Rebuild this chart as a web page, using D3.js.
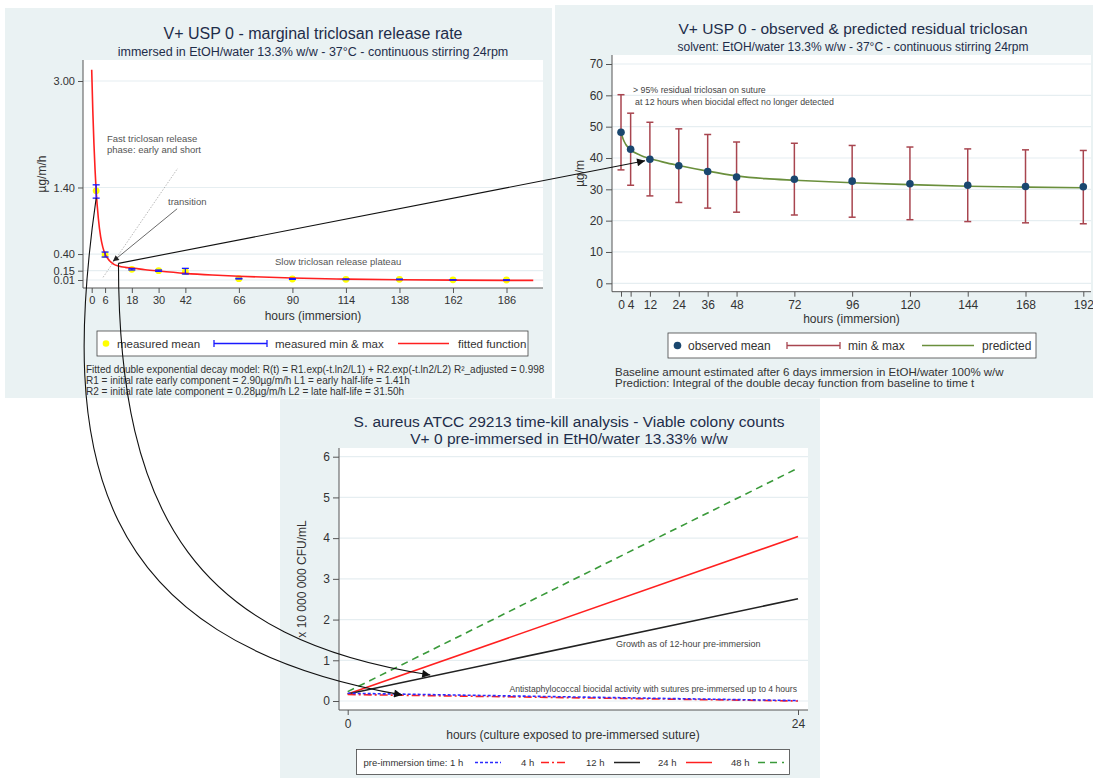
<!DOCTYPE html>
<html>
<head>
<meta charset="utf-8">
<script src="https://cdn.jsdelivr.net/npm/d3@7"></script>
<style>
  body { margin: 0; background: #fff; }
  svg { display: block; font-family: "Liberation Sans", Arial, sans-serif; }
</style>
</head>
<body>
<div id="chart"></div>
<script>
/* DATA */

// panel 1 - marginal release rate (µg/m/h)
const rateHours = [2, 6, 18, 30, 42, 66, 90, 114, 138, 162, 186];
const rateMean = [1.35, 0.39, 0.17, 0.15, 0.135, 0.03, 0.025, 0.02, 0.02, 0.012, 0.01];
const rateMin = [1.24, 0.355, 0.16, 0.14, 0.10, 0.025, 0.02, 0.016, 0.016, 0.01, 0.008];
const rateMax = [1.44, 0.43, 0.18, 0.16, 0.185, 0.035, 0.03, 0.024, 0.024, 0.014, 0.012];
const fitHours = [0, 0.5, 1, 1.5, 2, 3, 4, 5, 6, 8, 10, 12, 15, 18, 24, 30, 42, 54, 66, 90, 114, 138, 162, 186, 198];
const fitRate = [3.17, 2.55, 2.06, 1.67, 1.35, 0.93, 0.66, 0.50, 0.40, 0.30, 0.245, 0.22, 0.20, 0.19, 0.165, 0.145, 0.11, 0.085, 0.066, 0.039, 0.023, 0.013, 0.008, 0.005, 0.004];
const rateYTicks = [0.01, 0.15, 0.40, 1.40, 3.00];
const rateXTicks = [0, 6, 18, 30, 42, 66, 90, 114, 138, 162, 186];

// panel 2 - residual triclosan (µg/m)
const resHours = [0, 4, 12, 24, 36, 48, 72, 96, 120, 144, 168, 192];
const resMean = [48.2, 42.8, 39.6, 37.5, 35.7, 33.9, 33.2, 32.6, 31.8, 31.3, 30.9, 30.8];
const resMin = [36.2, 31.3, 27.9, 25.8, 24.0, 22.7, 21.8, 21.1, 20.3, 19.7, 19.3, 19.0];
const resMax = [60.2, 54.3, 51.4, 49.3, 47.5, 45.1, 44.7, 44.0, 43.5, 42.9, 42.6, 42.4];
const predHours = [0, 1, 2, 4, 8, 12, 18, 24, 36, 48, 60, 72, 96, 120, 144, 168, 192];
const predAmount = [48.2, 45.8, 44.3, 42.6, 40.9, 39.8, 38.6, 37.6, 35.8, 34.3, 33.4, 32.9, 32.1, 31.5, 31.0, 30.7, 30.5];
const resYTicks = [0, 10, 20, 30, 40, 50, 60, 70];
const resXTicks = [0, 4, 12, 24, 36, 48, 72, 96, 120, 144, 168, 192];

// panel 3 - time-kill counts (x 10 000 000 CFU/mL)
const killHours = [0, 24];
const cfu1h = [0.19, 0.01];
const cfu4h = [0.16, 0.00];
const cfu12h = [0.17, 2.51];
const cfu24h = [0.17, 4.04];
const cfu48h = [0.23, 5.72];
const killLabels = ["1 h", "4 h", "12 h", "24 h", "48 h"];
const killYTicks = [0, 1, 2, 3, 4, 5, 6];
const killXTicks = [0, 24];

/* SETUP */
const width = 1093, height = 778;
const panelBg = "#eaf2f3";
const titleColor = "#1e2d4a";
const textColor = "#333";

const svg = d3.select("#chart").append("svg")
  .attr("width", width)
  .attr("height", height)
  .style("background", "#fff");

const defs = svg.append("defs");
defs.append("marker")
  .attr("id", "arrowBig")
  .attr("viewBox", "0 0 10 10")
  .attr("refX", 10).attr("refY", 5)
  .attr("markerUnits", "userSpaceOnUse")
  .attr("markerWidth", 11).attr("markerHeight", 8)
  .attr("orient", "auto")
  .append("path").attr("d", "M0,0 L10,5 L0,10 z").attr("fill", "#111");
defs.append("marker")
  .attr("id", "arrowSmall")
  .attr("viewBox", "0 0 10 10")
  .attr("refX", 10).attr("refY", 5)
  .attr("markerUnits", "userSpaceOnUse")
  .attr("markerWidth", 7).attr("markerHeight", 6)
  .attr("orient", "auto")
  .append("path").attr("d", "M0,0 L10,5 L0,10 z").attr("fill", "#222");

function frame(box, plot) {
  svg.append("rect")
    .attr("x", box.x).attr("y", box.y)
    .attr("width", box.w).attr("height", box.h)
    .attr("fill", panelBg);
  svg.append("rect")
    .attr("x", plot.left).attr("y", plot.top)
    .attr("width", plot.right - plot.left)
    .attr("height", plot.bottom - plot.top)
    .attr("fill", "#fff");
}

function grid(plot, yScale, ticks) {
  svg.append("g").selectAll("line")
    .data(ticks)
    .join("line")
    .attr("x1", plot.left).attr("x2", plot.right)
    .attr("y1", d => yScale(d)).attr("y2", d => yScale(d))
    .attr("stroke", "#e6eef1")
    .attr("stroke-width", 1.2);
}

function axes(plot, xAxis, yAxis, fontSize) {
  const gx = svg.append("g")
    .attr("transform", `translate(0,${plot.bottom})`)
    .call(xAxis);
  const gy = svg.append("g")
    .attr("transform", `translate(${plot.left},0)`)
    .call(yAxis);
  [gx, gy].forEach(g => {
    g.select(".domain").remove();
    g.attr("font-family", null).attr("font-size", null);
    g.selectAll(".tick line").attr("stroke", "#555");
    g.selectAll(".tick text").attr("fill", textColor).style("font-size", fontSize + "px");
  });
  svg.append("line")
    .attr("x1", plot.left).attr("x2", plot.left)
    .attr("y1", plot.top).attr("y2", plot.bottom)
    .attr("stroke", "#555");
  svg.append("line")
    .attr("x1", plot.left).attr("x2", plot.right)
    .attr("y1", plot.bottom).attr("y2", plot.bottom)
    .attr("stroke", "#555");
}

function label(x, y, txt, size, opts = {}) {
  const t = svg.append("text")
    .attr("x", x).attr("y", y)
    .attr("dy", "0.35em")
    .attr("text-anchor", opts.anchor || "middle")
    .attr("fill", opts.color || textColor)
    .style("font-size", size + "px")
    .text(txt);
  if (opts.rotate) t.attr("transform", `rotate(-90,${x},${y})`);
  return t;
}

/*************/
/* PANEL 1   */
/*************/
const p1 = { left: 83, right: 543, top: 60, bottom: 288 };
frame({ x: 5, y: 8, w: 547, h: 390 }, p1);

const x1 = d3.scaleLinear().domain([0, 186]).range([91.7, 506.5]);
const y1 = d3.scaleLinear().domain([0.01, 3.0]).range([280, 81]);

grid(p1, y1, rateYTicks);
axes(p1,
  d3.axisBottom(x1).tickValues(rateXTicks).tickSize(5).tickPadding(3),
  d3.axisLeft(y1).tickValues(rateYTicks).tickFormat(d3.format(".2f")).tickSize(5).tickPadding(3),
  11);

label(313, 33, "V+ USP 0 - marginal triclosan release rate", 16, { color: titleColor });
label(313, 51.5, "immersed in EtOH/water 13.3% w/w - 37°C - continuous stirring 24rpm", 12.5, { color: titleColor });
label(42, (p1.top + p1.bottom) / 2, "µg/m/h", 12, { rotate: true });
label((p1.left + p1.right) / 2, 316, "hours (immersion)", 12);

// annotations
svg.append("line")
  .attr("x1", x1(5.1)).attr("y1", y1(0.05))
  .attr("x2", x1(38.6)).attr("y2", y1(1.69))
  .attr("stroke", "#999").attr("stroke-width", 0.7)
  .attr("stroke-dasharray", "1.5,1.5");
svg.append("line")
  .attr("x1", x1(38.3)).attr("y1", y1(1.08))
  .attr("x2", x1(9.5)).attr("y2", y1(0.29))
  .attr("stroke", "#444").attr("stroke-width", 0.8)
  .attr("marker-end", "url(#arrowSmall)");
label(107, 139, "Fast triclosan release", 9.5, { anchor: "start", color: "#555" });
label(107, 149.5, "phase: early and short", 9.5, { anchor: "start", color: "#555" });
label(168, 202, "transition", 9.5, { anchor: "start", color: "#555" });
label(275, 262, "Slow triclosan release plateau", 9.5, { anchor: "start", color: "#555" });

// measured mean
svg.append("g").selectAll("circle")
  .data(rateHours)
  .join("circle")
  .attr("cx", d => x1(d))
  .attr("cy", (d, i) => y1(rateMean[i]))
  .attr("r", 3.4)
  .attr("fill", "#ffff00");

// fitted function
const fitLine = d3.line()
  .x(d => x1(d))
  .y((d, i) => y1(fitRate[i]))
  .curve(d3.curveMonotoneX);
svg.append("path")
  .attr("d", fitLine(fitHours))
  .attr("fill", "none")
  .attr("stroke", "#ff2020")
  .attr("stroke-width", 1.6);

// min & max
const rateBars = svg.append("g").attr("stroke", "#1a1aff").attr("stroke-width", 1.3);
rateHours.forEach((h, i) => {
  const cx = x1(h);
  rateBars.append("line").attr("x1", cx).attr("x2", cx).attr("y1", y1(rateMin[i])).attr("y2", y1(rateMax[i]));
  rateBars.append("line").attr("x1", cx - 3.5).attr("x2", cx + 3.5).attr("y1", y1(rateMin[i])).attr("y2", y1(rateMin[i]));
  rateBars.append("line").attr("x1", cx - 3.5).attr("x2", cx + 3.5).attr("y1", y1(rateMax[i])).attr("y2", y1(rateMax[i]));
});

// legend
svg.append("rect").attr("x", 97).attr("y", 331).attr("width", 431).attr("height", 25)
  .attr("fill", "#fff").attr("stroke", "#444").attr("stroke-width", 0.8);
svg.append("circle").attr("cx", 106).attr("cy", 343.5).attr("r", 3.3).attr("fill", "#ffff00");
label(117, 343.5, "measured mean", 11.5, { anchor: "start" });
svg.append("line").attr("x1", 214).attr("x2", 267).attr("y1", 343.5).attr("y2", 343.5).attr("stroke", "#1a1aff").attr("stroke-width", 1.3);
svg.append("line").attr("x1", 214).attr("x2", 214).attr("y1", 340).attr("y2", 347).attr("stroke", "#1a1aff").attr("stroke-width", 1.3);
svg.append("line").attr("x1", 267).attr("x2", 267).attr("y1", 340).attr("y2", 347).attr("stroke", "#1a1aff").attr("stroke-width", 1.3);
label(275, 343.5, "measured min & max", 11.5, { anchor: "start" });
svg.append("line").attr("x1", 398).attr("x2", 449).attr("y1", 343.5).attr("y2", 343.5).attr("stroke", "#ff2020").attr("stroke-width", 1.3);
label(458, 343.5, "fitted function", 11.5, { anchor: "start" });

label(86, 369, "Fitted double exponential decay model: R(t) = R1.exp(-t.ln2/L1) + R2.exp(-t.ln2/L2) R²_adjusted = 0.998", 10, { anchor: "start" });
label(86, 380, "R1 = initial rate early component = 2.90µg/m/h  L1 = early half-life = 1.41h", 10, { anchor: "start" });
label(86, 391, "R2 = initial rate late component = 0.28µg/m/h  L2 = late half-life = 31.50h", 10, { anchor: "start" });

/*************/
/* PANEL 2   */
/*************/
const p2 = { left: 612, right: 1091, top: 55, bottom: 291.7 };
frame({ x: 555, y: 5, w: 538, h: 393 }, p2);

const x2 = d3.scaleLinear().domain([0, 192]).range([621, 1083.3]);
const y2 = d3.scaleLinear().domain([0, 70]).range([283.3, 64]);

grid(p2, y2, resYTicks);
axes(p2,
  d3.axisBottom(x2).tickValues(resXTicks).tickSize(5).tickPadding(4),
  d3.axisLeft(y2).tickValues(resYTicks).tickSize(6).tickPadding(3),
  12);

label(853, 28.5, "V+ USP 0 - observed & predicted residual triclosan", 15.5, { color: titleColor });
label(853, 46.5, "solvent: EtOH/water 13.3% w/w - 37°C - continuous stirring 24rpm", 12, { color: titleColor });
label(580, (p2.top + p2.bottom) / 2, "µg/m", 12, { rotate: true });
label((p2.left + p2.right) / 2, 319, "hours (immersion)", 12);

label(633, 90, "> 95% residual triclosan on suture", 8.8, { anchor: "start", color: "#444" });
label(635, 101.5, "at 12 hours when biocidal effect no longer detected", 8.8, { anchor: "start", color: "#444" });

// min & max
const resBars = svg.append("g").attr("stroke", "#a8454f").attr("stroke-width", 1.5);
resHours.forEach((h, i) => {
  const cx = x2(h);
  resBars.append("line").attr("x1", cx).attr("x2", cx).attr("y1", y2(resMin[i])).attr("y2", y2(resMax[i]));
  resBars.append("line").attr("x1", cx - 3.5).attr("x2", cx + 3.5).attr("y1", y2(resMin[i])).attr("y2", y2(resMin[i]));
  resBars.append("line").attr("x1", cx - 3.5).attr("x2", cx + 3.5).attr("y1", y2(resMax[i])).attr("y2", y2(resMax[i]));
});

// predicted
const predLine = d3.line()
  .x(d => x2(d))
  .y((d, i) => y2(predAmount[i]))
  .curve(d3.curveMonotoneX);
svg.append("path")
  .attr("d", predLine(predHours))
  .attr("fill", "none")
  .attr("stroke", "#6a8f3c")
  .attr("stroke-width", 1.6);

// observed mean
svg.append("g").selectAll("circle")
  .data(resHours)
  .join("circle")
  .attr("cx", d => x2(d))
  .attr("cy", (d, i) => y2(resMean[i]))
  .attr("r", 3.8)
  .attr("fill", "#1a476f");

// legend
svg.append("rect").attr("x", 668).attr("y", 333).attr("width", 368).attr("height", 25)
  .attr("fill", "#fff").attr("stroke", "#444").attr("stroke-width", 0.8);
svg.append("circle").attr("cx", 677.5).attr("cy", 345.5).attr("r", 3.8).attr("fill", "#1a476f");
label(688, 345.5, "observed mean", 12, { anchor: "start" });
svg.append("line").attr("x1", 787).attr("x2", 840).attr("y1", 345.5).attr("y2", 345.5).attr("stroke", "#a8454f").attr("stroke-width", 1.3);
svg.append("line").attr("x1", 787).attr("x2", 787).attr("y1", 342).attr("y2", 349).attr("stroke", "#a8454f").attr("stroke-width", 1.3);
svg.append("line").attr("x1", 840).attr("x2", 840).attr("y1", 342).attr("y2", 349).attr("stroke", "#a8454f").attr("stroke-width", 1.3);
label(848, 345.5, "min & max", 12, { anchor: "start" });
svg.append("line").attr("x1", 922).attr("x2", 974).attr("y1", 345.5).attr("y2", 345.5).attr("stroke", "#6a8f3c").attr("stroke-width", 1.3);
label(982, 345.5, "predicted", 12, { anchor: "start" });

label(615, 371.5, "Baseline amount estimated after 6 days immersion in EtOH/water 100% w/w", 11.5, { anchor: "start" });
label(615, 382.5, "Prediction: Integral of the double decay function from baseline to time t", 11.5, { anchor: "start" });

/*************/
/* PANEL 3   */
/*************/
const p3 = { left: 339, right: 808, top: 448, bottom: 710 };
frame({ x: 280, y: 398.5, w: 540, h: 380 }, p3);

const x3 = d3.scaleLinear().domain([0, 24]).range([347.7, 798]);
const y3 = d3.scaleLinear().domain([0, 6]).range([701, 456.7]);

grid(p3, y3, killYTicks);
axes(p3,
  d3.axisBottom(x3).tickValues(killXTicks).tickFormat(d3.format("d")).tickSize(5).tickPadding(4),
  d3.axisLeft(y3).tickValues(killYTicks).tickFormat(d3.format("d")).tickSize(6).tickPadding(3),
  12);

label(569, 421.7, "S. aureus ATCC 29213 time-kill analysis - Viable colony counts", 15.5, { color: titleColor });
label(569, 438.3, "V+ 0 pre-immersed in EtH0/water 13.33% w/w", 15.5, { color: titleColor });
label(302, (p3.top + p3.bottom) / 2, "x 10 000 000 CFU/mL", 12, { rotate: true });
label(573, 735, "hours (culture exposed to pre-immersed suture)", 12);

const killStyles = [
  { values: cfu1h, color: "#2b2bff", dash: "3,2" },
  { values: cfu4h, color: "#ff2020", dash: "8,3,2,3" },
  { values: cfu12h, color: "#222", dash: null },
  { values: cfu24h, color: "#ff2020", dash: null },
  { values: cfu48h, color: "#3a9a3a", dash: "7,5" }
];
const killLine = vals => d3.line()
  .x(d => x3(d))
  .y((d, i) => y3(vals[i]))(killHours);

svg.append("g").selectAll("path")
  .data(killStyles.slice().reverse())
  .join("path")
  .attr("d", d => killLine(d.values))
  .attr("fill", "none")
  .attr("stroke", d => d.color)
  .attr("stroke-width", 1.6)
  .attr("stroke-dasharray", d => d.dash);

label(616, 644, "Growth as of 12-hour pre-immersion", 9, { anchor: "start", color: "#444" });
label(797, 689.3, "Antistaphylococcal biocidal activity with sutures pre-immersed up to 4 hours", 8.6, { anchor: "end", color: "#444" });

// legend
svg.append("rect").attr("x", 356.5).attr("y", 749.5).attr("width", 433).attr("height", 25)
  .attr("fill", "#fff").attr("stroke", "#444").attr("stroke-width", 0.8);
const legX = [{ t: 363.5, l: 475 }, { t: 521, l: 541 }, { t: 586, l: 614 }, { t: 658, l: 686 }, { t: 731, l: 758 }];
killStyles.forEach((s, i) => {
  const txt = i === 0 ? "pre-immersion time: " + killLabels[i] : killLabels[i];
  label(legX[i].t, 762.5, txt, 9.5, { anchor: "start" });
  svg.append("line")
    .attr("x1", legX[i].l).attr("x2", legX[i].l + 26)
    .attr("y1", 762.5).attr("y2", 762.5)
    .attr("stroke", s.color).attr("stroke-width", 1.5)
    .attr("stroke-dasharray", s.dash);
});

/***********************/
/* CROSS-PANEL ARROWS  */
/***********************/
const transPt = [x1(12), y1(0.26)];
const earlyPt = [x1(rateHours[0]), y1(rateMin[0])];
const residualPt = [x2(10), y2(39.1)];
const growthPt = [x3(4.4), y3(0.64)];
const killPt = [x3(2.9), y3(0.15)];

const arrows = svg.append("g")
  .attr("fill", "none")
  .attr("stroke", "#111")
  .attr("stroke-width", 1.1)
  .attr("marker-end", "url(#arrowBig)");

arrows.append("path")
  .attr("d", `M${transPt} L${residualPt}`);
arrows.append("path")
  .attr("d", `M${earlyPt} C${earlyPt[0] - 36},${earlyPt[1] + 253} ${killPt[0] - 313},${killPt[1] - 55} ${killPt}`);
arrows.append("path")
  .attr("d", `M${transPt} C${transPt[0]},${transPt[1] + 257} ${growthPt[0] - 230},${growthPt[1] - 35} ${growthPt}`);
</script>
</body>
</html>
